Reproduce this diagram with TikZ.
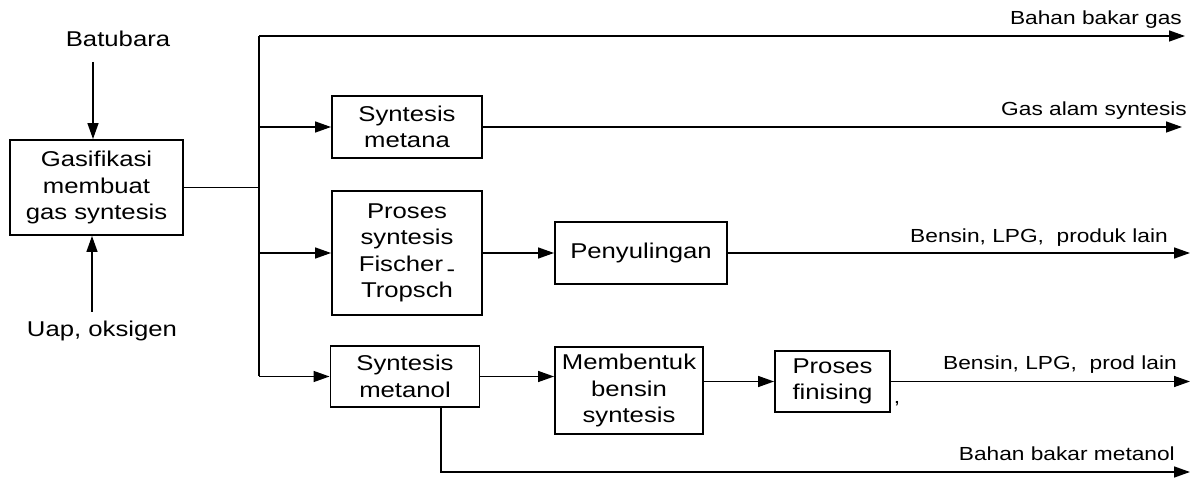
\documentclass[tikz,border=0pt]{standalone}
\usepackage{fontspec}
\setmainfont[FakeStretch=1.2]{Liberation Sans}
\usetikzlibrary{arrows.meta}
\newcommand\myboxfont{\fontsize{21.5}{26.5}\selectfont}
\newcommand\mylblfont{\fontsize{19}{23}\selectfont}
\begin{document}
\begin{tikzpicture}[x=1bp,y=-1bp,
  box/.style={draw, line width=1.9bp, inner sep=0pt, align=center, font=\myboxfont},
  txt/.style={inner sep=0pt, font=\myboxfont},
  lbl/.style={inner sep=0pt, font=\mylblfont, anchor=mid east},
  ln/.style={line width=1.4bp},
  arr/.style={line width=1.4bp, -{Triangle[length=16bp,width=11bp]}}]
\useasboundingbox[fill=white] (0,0) rectangle (1194,480);

% boxes
\node[box, minimum width=173bp, minimum height=95bp] (gas) at (96.5,187.5) {Gasifikasi\\membuat\\gas syntesis};
\node[box, minimum width=150bp, minimum height=62bp] (metana) at (407,127) {Syntesis\\metana};
\node[box, minimum width=150bp, minimum height=124bp] (ft) at (407,253) {Proses\\syntesis\\Fischer\,\raisebox{-0.22em}{-}\\Tropsch};
\node[box, minimum width=149bp, minimum height=61bp] (metanol) at (405,376.5) {Syntesis\\metanol};
\node[box, minimum width=172bp, minimum height=62bp] (peny) at (641,253) {Penyulingan};
\node[box, minimum width=148bp, minimum height=87bp] (memb) at (629,390.5) {Membentuk\\bensin\\syntesis};
\node[box, minimum width=115bp, minimum height=61bp] (fin) at (832.5,381.5) {Proses\\finising};

% inputs
\node[txt] (bat) at (118,39) {Batubara};
\node[txt] (uap) at (102,331) {Uap, oksigen};
\coordinate (a1) at (93,62);
\coordinate (a2) at (92,312);
\draw[arr] (a1) -- (a1 |- gas.north);
\draw[arr] (a2) -- (a2 |- gas.south);

% distribution
\coordinate (j0) at (259,36);
\coordinate (jb) at (259,376.5);
\coordinate (e0) at (1185,36);
\coordinate (e1) at (1182,127);
\coordinate (e2) at (1190,253);
\coordinate (e3) at (1190,381.5);
\coordinate (m1) at (441,472);
\coordinate (e4) at (1190,472);

\draw[ln] (gas.east) -- (gas.east -| j0);
\draw[ln] (j0) -- (jb);
\draw[arr] (j0) -- (e0);
\draw[arr] (j0 |- metana.west) -- (metana.west);
\draw[arr] (j0 |- ft.west) -- (ft.west);
\draw[arr] (jb) -- (metanol.west);

\draw[arr] (metana.east) -- (e1);
\draw[arr] (ft.east) -- (peny.west);
\draw[arr] (peny.east) -- (e2);
\draw[arr] (metanol.east) -- (metanol.east -| memb.west);
\draw[arr] (memb.east |- fin.west) -- (fin.west);
\draw[arr] (fin.east) -- (e3);
\draw[arr] (m1 |- metanol.south) -- (m1) -- (e4);

% labels
\node[lbl] (l0) at (1182,22) {Bahan bakar gas};
\node[lbl] (l1) at (1187,113) {Gas alam syntesis};
\node[lbl] (l2) at (1168,240) {Bensin, LPG,\ \ produk lain};
\node[lbl] (l3) at (1177,367) {Bensin, LPG, \ prod lain};
\node[lbl] (l4) at (1175,458) {Bahan bakar metanol};
\node[inner sep=0pt, font=\mylblfont] (comma) at (897,404) {,};
\end{tikzpicture}
\end{document}
